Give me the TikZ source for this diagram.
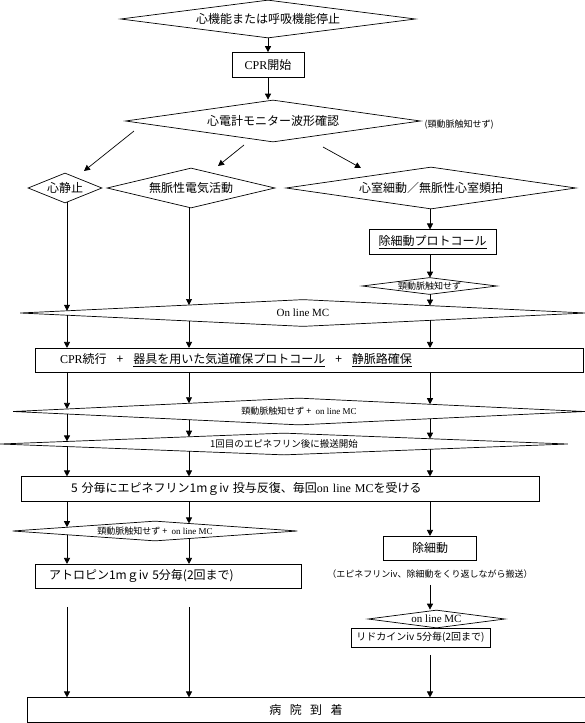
\documentclass[tikz,border=0pt]{standalone}
\usepackage{fontspec}
\setmainfont{Noto Sans CJK JP}
\newfontfamily\latn{Liberation Serif}
\usetikzlibrary{arrows.meta,shapes.geometric,intersections}

% vertical connector at x=#2 from the lower border of #3 to the upper border of #4
\newcommand{\colseg}[4][]{%
  \path[name path=colpath] (#2,0) -- (#2,723);
  \path[name intersections={of=colpath and #3,sort by=colpath,name=up,total=\nup}]
    (up-\nup) coordinate (segtop);
  \path[name intersections={of=colpath and #4,sort by=colpath,name=dn}];
  \draw[arrow,#1] (segtop) -- (dn-1);
}

\begin{document}
\begin{tikzpicture}[
  x=1pt,y=-1pt,
  line width=0.7pt,
  big/.style={font=\fontsize{12}{14}\selectfont},
  small/.style={font=\fontsize{9}{11}\selectfont},
  serif/.style={font=\latn\fontsize{11}{13}\selectfont},
  dia/.style n args={3}{shape=diamond,draw,inner sep=-3pt,
    minimum width=#1,minimum height=#2,aspect=#3},
  box/.style={draw,inner sep=0pt,align=center},
  arrow/.style={-{Triangle[length=6pt,width=6pt]}}
]
\path[use as bounding box,fill=white] (0,0) rectangle (585,723);

% start
\node[dia={295pt}{38pt}{7.8},big,name path=arrest] (arrest) at (268,19) {心機能または呼吸機能停止};
\node[box,big,minimum width=72pt,minimum height=25pt,name path=cpr] (cpr) at (268,65) {{\latn CPR}開始};
\node[dia={295pt}{42pt}{7},big,name path=ecg] (ecg) at (273,121) {心電計モニター波形確認};
\node[small,anchor=west] (nopulse) at (421,125) {(頸動脈触知せず)};
\draw[arrow] (arrest) -- (cpr);
\draw[arrow] (cpr.south) -- (cpr.south |- ecg.north);

% rhythm
\node[dia={74pt}{30pt}{2.5},big,name path=asys] (asys) at (65,188) {心静止};
\node[dia={168pt}{40pt}{4.2},big,name path=pea] (pea) at (191,188) {無脈性電気活動};
\node[dia={290pt}{42pt}{6.9},big,name path=vf] (vf) at (431,188) {心室細動／無脈性心室頻拍};
\coordinate (ecgA) at (134,131);
\coordinate (ecgB) at (244,145);
\coordinate (ecgC) at (323,147);
\coordinate (asysT) at (84,171);
\coordinate (peaT) at (218,166);
\coordinate (vfT) at (361,168);
\draw[arrow] (ecgA) -- (asysT);
\draw[arrow] (ecgB) -- (peaT);
\draw[arrow] (ecgC) -- (vfT);

\node[box,big,minimum width=127pt,minimum height=25pt,name path=defib] (defib) at (432.5,242) {\underline{除細動プロトコール}};
\node[dia={135pt}{17pt}{8},small,name path=nopA] (nopA) at (429.5,286) {頸動脈触知せず};

% common part
\node[dia={566pt}{27pt}{21},serif,name path=mc] (mc) at (303,313) {On line MC};
\node[box,big,minimum width=548pt,minimum height=24pt,inner xsep=25pt,text width=498pt,align=left,name path=cont] (cont) at (309,360)
  {{\latn CPR}続行\hspace{10pt}+\hspace{10pt}\underline{器具を用いた気道確保プロトコール}\hspace{10pt}+\hspace{10pt}\underline{静脈路確保}};
\node[dia={572pt}{27pt}{21},small,name path=mcA] (mcA) at (299,411.5) {頸動脈触知せず\ +\ \ {\latn on line MC}};
\node[dia={568pt}{22pt}{25},font=\fontsize{9.5}{11}\selectfont,name path=trans] (trans) at (284,444) {1回目のエピネフリン後に搬送開始};
\node[box,big,minimum height=25pt,inner xsep=50pt,text width=418pt,align=left,name path=epi] (epi) at (280,489)
  {5 分毎にエピネフリン1mｇiv 投与反復、毎回{\latn on line MC}を受ける};

% left columns
\node[dia={285pt}{20pt}{14},small,name path=mcB] (mcB) at (155,531) {頸動脈触知せず\ +\ \ {\latn on line MC}};
\node[box,big,minimum height=24pt,inner xsep=14pt,text width=238pt,align=left,name path=atro] (atro) at (168,576) {アトロピン1mｇiv 5分毎(2回まで)};

% right column
\node[box,big,minimum width=93pt,minimum height=24pt,name path=shock] (shock) at (430,548) {除細動};
\node[small] (repeat) at (430,574) {（エピネフリンiv、除細動をくり返しながら搬送）};
\node[dia={137pt}{18pt}{7.6},serif,name path=mcC] (mcC) at (436.5,619) {on line MC};
\node[box,font=\fontsize{10}{12}\selectfont,minimum width=139pt,minimum height=19pt,name path=lido] (lido) at (420.5,637.5) {リドカインiv 5分毎(2回まで)};

\node[box,big,minimum width=558pt,minimum height=25pt,name path=hosp] (hosp) at (306,710) {病\hspace{0.7em}院\hspace{0.7em}到\hspace{0.7em}着};

\foreach \cx/\src in {67/asys,189/pea}{
  \colseg{\cx}{\src}{mc}
  \colseg{\cx}{mc}{cont}
  \colseg{\cx}{cont}{mcA}
  \colseg{\cx}{mcA}{trans}
  \colseg{\cx}{trans}{epi}
  \colseg{\cx}{epi}{mcB}
  \colseg{\cx}{mcB}{atro}
  \colseg[shorten <=19pt]{\cx}{atro}{hosp}
}
\colseg{430}{vf}{defib}
\colseg{430}{defib}{nopA}
\colseg{430}{nopA}{mc}
\colseg{430}{mc}{cont}
\colseg{430}{cont}{mcA}
\colseg{430}{mcA}{trans}
\colseg{430}{trans}{epi}
\colseg{430}{epi}{shock}
\draw[arrow,shorten <=3pt] (repeat.south) -- (repeat.south |- mcC.north);
\colseg[shorten <=8pt]{430}{lido}{hosp}
\end{tikzpicture}
\end{document}
